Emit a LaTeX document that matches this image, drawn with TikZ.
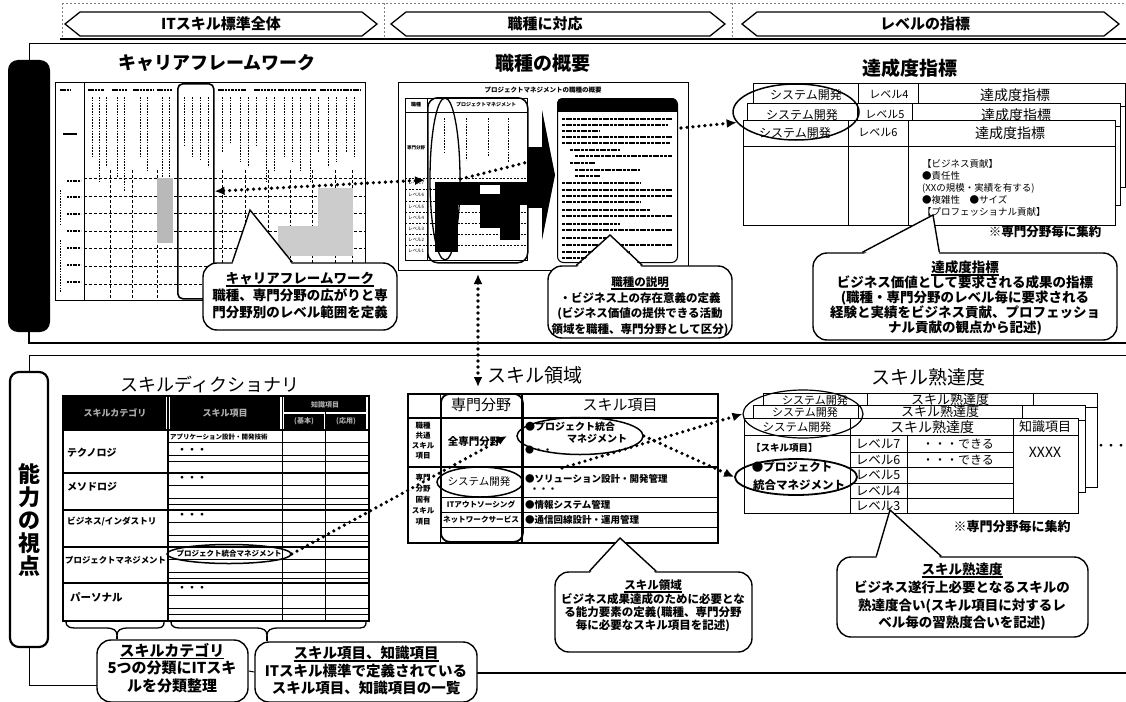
\documentclass[tikz,border=0pt]{standalone}
\usepackage{fontspec}
\setmainfont{Noto Sans CJK JP}
\usetikzlibrary{arrows.meta,calc,shapes.geometric}
\newcommand{\fsb}[2]{\fontsize{#1}{#2}\selectfont}
\newcommand{\ulx}[1]{\setbox0\hbox{#1}\rlap{\rule[-3pt]{\wd0}{1.5pt}}\box0}
\newcommand{\ptrto}[4]{%
  \fill[white] ($(#1.north west)+(#2,2.5)$) -- (#4) -- ($(#1.north west)+(#3,2.5)$) -- cycle;
  \draw[ptr] ($(#1.north west)+(#2,0)$) -- (#4) -- ($(#1.north west)+(#3,0)$);}
\begin{document}
\begin{tikzpicture}[x=1pt,y=-1pt,
  dotline/.style={line width=3.6pt, dash pattern=on 0pt off 6pt, line cap=round},
  hd/.style={-{Latex[length=10pt 0 0,width=9pt 0 0]}},
  hdd/.style={{Latex[length=10pt 0 0,width=9pt 0 0]}-{Latex[length=10pt 0 0,width=9pt 0 0]}},
  cbox/.style={draw, line width=1.4pt, fill=white, rounded corners=14pt, inner sep=0pt},
  rbox/.style={draw, inner sep=0pt, anchor=north west},
  ell/.style={draw, ellipse, inner sep=0pt},
  hexa/.style={draw, line width=1.3pt},
  ptr/.style={line width=1.4pt},
  ctx/.style={align=center, inner sep=0pt},
  ttl/.style={inner sep=0pt, font=\fsb{19}{19}},
  ttlb/.style={inner sep=0pt, font=\fsb{19}{19}\bfseries},
  txtbar/.style={line width=1.5pt, dash pattern=on 2.5pt off 0.8pt},
  vcol/.style={line width=0.9pt, dash pattern=on 1.6pt off 1.2pt},
  grid/.style={line width=0.5pt, dash pattern=on 3pt off 2pt},
]
\useasboundingbox (0,0) rectangle (1126,701);
\fill[white] (0,0) rectangle (1126,701);

% ---------------- header ----------------
\draw[gray, line width=0.5pt, dash pattern=on 2pt off 2pt] (62,3) -- (1126,3);
\foreach \x in {62,384,732} \draw[gray, line width=0.5pt, dash pattern=on 2pt off 2pt] (\x,3) -- (\x,38);
\draw[hexa] (65,24) -- (80,12) -- (362,12) -- (377,24) -- (362,36) -- (80,36) -- cycle;
\node[inner sep=0, font=\fsb{15}{15}\bfseries] (h1) at (221,24) {ITスキル標準全体};
\draw[hexa] (391,24) -- (406,12) -- (710,12) -- (725,24) -- (710,36) -- (406,36) -- cycle;
\node[inner sep=0, font=\fsb{15}{15}\bfseries] (h2) at (545,24) {職種に対応};
\draw[hexa] (742,24) -- (757,12) -- (1104,12) -- (1119,24) -- (1104,36) -- (757,36) -- cycle;
\node[inner sep=0, font=\fsb{15}{15}\bfseries] (h3) at (925,24) {レベルの指標};
\draw[line width=1.2pt] (60,39) -- (1126,39);

% ---------------- panels and side bars ----------------
\node[fill=black, rounded corners=10pt, minimum width=42pt, minimum height=272pt, inner sep=0] (bar1) at (29,196) {};
\draw[line width=1pt] (bar1.north) -- (29,44) -- (1126,44);
\draw[line width=1.4pt] (bar1.south) -- (29,343) -- (1126,343);
\node[draw, line width=2.2pt, rounded corners=9pt, fill=white, minimum width=38pt, minimum height=275pt, inner sep=0] (bar2) at (29,509.5) {};
\node[align=center, inner sep=0, font=\fsb{22}{23}\bfseries] (bar2t) at (29,520) {能\\力\\の\\視\\点};
\draw[line width=1pt] (bar2.north) -- (29,355) -- (1126,355);
\draw[line width=1pt] (bar2.south) -- (29,685) -- (97,685);
\draw[line width=1.4pt] (477,673) -- (1126,673);

% ---------------- career framework ----------------
\node[ttlb, font=\fsb{18}{18}\bfseries] (tcf) at (217,63) {キャリアフレームワーク};
\node[rbox, line width=1.2pt, minimum width=310pt, minimum height=218pt] (fw) at (55,82) {};
\draw[line width=0.6pt] (84,82) -- (84,300);
\foreach \x/\w in {60/10, 88/16, 112/15, 133/20, 157/15, 218/28, 254/22, 278/38, 320/40}
  \draw[txtbar] (\x,90) -- ++(\w,0);
\foreach \x/\l in {92/60, 99/85, 106/70, 117/80, 124/95, 140/60, 147/75, 162/90, 169/85, 184/50, 192/60, 200/62, 208/70, 222/55, 230/45, 240/65, 248/70, 256/50, 266/85, 274/75, 284/60, 292/65, 300/75, 310/85, 318/55, 328/70, 336/65, 346/55, 354/60}
  \draw[vcol] (\x,97) -- ++(0,\l);
\draw[line width=1.6pt] (63,134) -- (77,134);
\foreach \y in {181,197,214,231,248,265,282} \draw[line width=1.1pt, dash pattern=on 2pt off 0.8pt] (67,\y) -- (81,\y);
\draw[vcol] (60,190) -- (60,225);
\draw[vcol] (60,240) -- (60,292);
\foreach \y in {178,196,213,231,248,266,284} \draw[grid] (84,\y) -- (365,\y);
\foreach \x in {110,132,157,222,245,268,290,312,335,352} \draw[grid] (\x,170) -- (\x,300);
\fill[gray!55] (157,178) rectangle (173,243);
\fill[gray!40] (318,188) rectangle (353,256);
\fill[gray!40] (278,226) rectangle (318,256);
\node[rbox, line width=1.6pt, rounded corners=5pt, minimum width=36pt, minimum height=215pt] (fwcol) at (177,83) {};

% ---------------- job overview ----------------
\node[ttlb] (tjob) at (543,63) {職種の概要};
\node[rbox, line width=1pt, minimum width=290pt, minimum height=188pt] (jobbox) at (398,82) {};
\node[inner sep=0, font=\fsb{6.5}{6.5}\bfseries] (jobcap) at (543,90) {プロジェクトマネジメントの職種の概要};
\node[rbox, line width=0.8pt, minimum width=122pt, minimum height=162pt] (jobtab) at (405,98) {};
\draw[line width=0.8pt] (405,112) -- (527,112);
\draw[line width=0.6pt] (427,98) -- (427,260);
\draw[line width=0.5pt, dash pattern=on 2pt off 1.5pt] (405,178) -- (527,178);
\foreach \y in {189,201,212,223,234,245} \draw[line width=0.4pt, dash pattern=on 2pt off 1.5pt] (405,\y) -- (527,\y);
\node[inner sep=0, font=\fsb{5}{5}\bfseries] (jobh1) at (416,105) {職種};
\node[inner sep=0, font=\fsb{5}{5}\bfseries] (jobh2) at (486,105) {プロジェクトマネジメント};
\node[inner sep=0, font=\fsb{4.5}{4.5}\bfseries] (jobsp) at (416,148) {専門分野};
\foreach \y/\t in {183/7,195/6,207/5,218/4,229/3,240/2,251/1}
  \node[inner sep=0, font=\fsb{4.5}{4.5}] (jl\t) at (416,\y) {レベル\t};
\foreach \x/\l in {444/35, 466/42, 488/38, 508/44} \draw[vcol] (\x,118) -- ++(0,\l);
\fill (435,182) rectangle (527,205);
\fill[white] (480,185) rectangle (500,194);
\fill (435,205) rectangle (458,252);
\fill (480,205) rectangle (520,228);
\fill (500,228) rectangle (520,240);
\node[rbox, line width=1.5pt, rounded corners=10pt, minimum width=100pt, minimum height=165pt] (jobhl) at (427,97) {};
\node[ell, line width=1.3pt, minimum width=30pt, minimum height=162pt] (jobell) at (445,179) {};
% block arrow
\fill (528,147) rectangle (546,208);
\fill (542,110) -- (555,175) -- (542,240) -- cycle;
% description page
\node[rbox, line width=1pt, rounded corners=6pt, minimum width=120pt, minimum height=164pt] (page) at (557,98) {};
\fill[rounded corners=5pt] (557,98) rectangle (677,108);
\fill (557,104) rectangle (677,112);
\foreach \y/\a/\b in {119/562/672, 125/562/668, 131/562/600, 137/562/672, 143/562/670, 150/570/620, 156/575/672, 163/570/595, 170/575/640, 176/575/600, 183/562/640, 190/562/672, 196/562/672, 202/562/640, 210/562/650, 216/562/672, 224/562/620, 230/562/672, 238/562/610, 245/562/672, 252/562/630, 258/562/600}
  \draw[line width=1.8pt, dash pattern=on 3pt off 0.7pt] (\a,\y) -- (\b,\y);

% ---------------- achievement index ----------------
\node[ttlb] (tach) at (910,68) {達成度指標};
\node[rbox, line width=1.2pt, fill=white, minimum width=372pt, minimum height=104pt] (ac1) at (753,83) {};
\draw[line width=1pt] (753,106) -- (1125,106);
\draw[line width=1pt] (858,83) -- (858,187);
\draw[line width=1pt] (918,83) -- (918,187);
\node[inner sep=0, font=\fsb{12}{12}] (ac1a) at (806,95) {システム開発};
\node[inner sep=0, font=\fsb{11}{11}] (ac1b) at (889,95) {レベル4};
\node[inner sep=0, font=\fsb{14}{14}] (ac1c) at (1015,95) {達成度指標};
\node[rbox, line width=1.2pt, fill=white, minimum width=373pt, minimum height=102pt] (ac2) at (747,103) {};
\draw[line width=1pt] (747,126) -- (1120,126);
\draw[line width=1pt] (857,103) -- (857,205);
\draw[line width=1pt] (912,103) -- (912,205);
\node[inner sep=0, font=\fsb{12}{12}] (ac2a) at (802,115) {システム開発};
\node[inner sep=0, font=\fsb{11}{11}] (ac2b) at (885,115) {レベル5};
\node[inner sep=0, font=\fsb{14}{14}] (ac2c) at (1016,115) {達成度指標};
\node[rbox, line width=1.2pt, fill=white, minimum width=372pt, minimum height=105pt] (ac3) at (743,120) {};
\draw[line width=1pt] (743,146) -- (1115,146);
\draw[line width=1pt] (848,120) -- (848,225);
\draw[line width=1pt] (908,120) -- (908,225);
\node[inner sep=0, font=\fsb{12}{12}] (ac3a) at (795,133) {システム開発};
\node[inner sep=0, font=\fsb{11}{11}] (ac3b) at (878,133) {レベル6};
\node[inner sep=0, font=\fsb{14}{14}] (ac3c) at (1010,133) {達成度指標};
\node[anchor=north west, align=left, inner sep=0, font=\fsb{9.5}{12}] (ac3body) at (922,159)
  {【ビジネス貢献】\\●責任性\\(XXの規模・実績を有する)\\●複雑性　●サイズ\\【プロフェッショナル貢献】};
\node[ell, line width=1.5pt, minimum width=126pt, minimum height=56pt] (acell) at (796,112) {};
\node[inner sep=0, font=\fsb{12.5}{12.5}\bfseries] (acnote) at (1045,232) {※専門分野毎に集約};

% ---------------- upper callouts ----------------
\coordinate (cfwtip) at (250,210);
\node[cbox, minimum width=194pt, minimum height=67pt] (cfw) at (300,296.5) {};
\ptrto{cfw}{30}{90}{cfwtip}
\node[ctx, font=\fsb{13.5}{17}\bfseries] (cfwt) at (300,296) {\ulx{キャリアフレームワーク}\\職種、専門分野の広がりと専\\門分野別のレベル範囲を定義};

\coordinate (cjobtip) at (610,235);
\node[cbox, minimum width=184pt, minimum height=72pt] (cjob) at (640,302) {};
\ptrto{cjob}{29}{95}{cjobtip}
\node[ctx, font=\fsb{11.5}{15.5}\bfseries] (cjobt) at (640,306) {\ulx{職種の説明}\\・ビジネス上の存在意義の定義\\(ビジネス価値の提供できる活動\\領域を職種、専門分野として区分)};

\coordinate (cachtip) at (933,215);
\node[cbox, minimum width=304pt, minimum height=87pt] (cach) at (965,296.5) {};
\ptrto{cach}{50}{127}{cachtip}
\node[ctx, font=\fsb{13.5}{14.8}\bfseries] (cacht) at (965,298) {\ulx{達成度指標}\\ビジネス価値として要求される成果の指標\\(職種・専門分野のレベル毎に要求される\\経験と実績をビジネス貢献、プロフェッショ\\ナル貢献の観点から記述)};

% ---------------- skill dictionary ----------------
\node[ttl, font=\fsb{18}{18}] (tsd) at (210,385) {スキルディクショナリ};
\node[rbox, line width=1.8pt, minimum width=306pt, minimum height=225pt] (sdict) at (62,395) {};
\fill (64,397) rectangle (166,429);
\fill (170,397) rectangle (280,429);
\fill (284,397) rectangle (366,412);
\fill (284,414) rectangle (324,429);
\fill (326,414) rectangle (366,429);
\node[inner sep=0, text=gray!65, font=\fsb{9}{9}\bfseries] (dh1) at (115,413) {スキルカテゴリ};
\node[inner sep=0, text=gray!65, font=\fsb{9}{9}\bfseries] (dh2) at (225,413) {スキル項目};
\node[inner sep=0, text=gray!65, font=\fsb{7}{7}\bfseries] (dh3) at (325,405) {知識項目};
\node[inner sep=0, text=gray!65, font=\fsb{7}{7}\bfseries] (dh4) at (304,421) {(基本)};
\node[inner sep=0, text=gray!65, font=\fsb{7}{7}\bfseries] (dh5) at (346,421) {(応用)};
\draw[line width=1.4pt] (168,395) -- (168,620);
\draw[line width=1pt] (282,395) -- (282,620);
\draw[line width=0.8pt] (325,412) -- (325,620);
\foreach \r in {430,473,510,547,583} {
  \draw[line width=1.2pt] (62,\r) -- (368,\r);
  \draw[line width=0.7pt] (168,\r+12) -- (368,\r+12);
  \draw[line width=0.7pt] (168,\r+25) -- (368,\r+25);
  \draw[line width=0.7pt] (168,\r+31) -- (368,\r+31);
}
\node[anchor=west, inner sep=0, font=\fsb{10}{10}\bfseries] (c1) at (67,453) {テクノロジ};
\node[anchor=west, inner sep=0, font=\fsb{10}{10}\bfseries] (c2) at (67,487) {メソドロジ};
\node[anchor=west, inner sep=0, font=\fsb{8.6}{8.6}\bfseries] (c3) at (67,522) {ビジネス/インダストリ};
\node[anchor=west, inner sep=0, font=\fsb{8.4}{8.4}\bfseries] (c4) at (65,560) {プロジェクトマネジメント};
\node[anchor=west, inner sep=0, font=\fsb{10.5}{10.5}\bfseries] (c5) at (70,597) {パーソナル};
\node[anchor=west, inner sep=0, font=\fsb{6.5}{6.5}\bfseries] (s1) at (170,437) {アプリケーション設計・開発技術};
\foreach \y/\n in {451/a,479/b,516/c,589/d}
  \node[anchor=west, inner sep=0, font=\fsb{10}{10}\bfseries] (dd\n) at (177,\y) {・・・};
\node[ell, line width=1.5pt, minimum width=124pt, minimum height=19pt] (sdpm) at (229,554) {};
\node[inner sep=0, font=\fsb{7.5}{7.5}\bfseries] (sdpmt) at (229,554) {プロジェクト統合マネジメント};
\draw[line width=1.3pt] (66,621) .. controls (66,628) and (70,628) .. (80,628) -- (105,628) .. controls (114,628) and (117,630) .. (117,636) .. controls (117,630) and (120,628) .. (129,628) -- (152,628) .. controls (162,628) and (164,628) .. (164,621);
\draw[line width=1.3pt] (171,621) .. controls (171,628) and (175,628) .. (185,628) -- (255,628) .. controls (264,628) and (267,630) .. (267,636) .. controls (267,630) and (270,628) .. (279,628) -- (355,628) .. controls (364,628) and (366,628) .. (366,621);
\node[cbox, minimum width=151pt, minimum height=62pt] (cbcat) at (172.5,671) {};
\node[cbox, minimum width=222pt, minimum height=60pt] (cbitem) at (366,672) {};
\draw[line width=1.3pt] (117,636) -- (cbcat.north -| 117,0);
\draw[line width=1.3pt] (267,636) -- (cbitem.north -| 267,0);
\draw[line width=1pt] (cbcat.east) -- (cbitem.west);
\node[ctx, font=\fsb{15}{17.5}\bfseries] (cbcatt) at (172,668) {\ulx{スキルカテゴリ}\\5つの分類にITスキ\\ルを分類整理};
\node[ctx, font=\fsb{14.5}{17.5}\bfseries] (cbitemt) at (366,671) {\ulx{スキル項目、知識項目}\\ITスキル標準で定義されている\\スキル項目、知識項目の一覧};

% ---------------- skill domain ----------------
\node[ttl] (tsdom) at (535,375) {スキル領域};
\node[rbox, line width=2.2pt, minimum width=310pt, minimum height=149pt] (sdom) at (407,393) {};
\draw[line width=0.8pt] (440,393) -- (440,542);
\draw[line width=2pt] (521.5,393) -- (521.5,542);
\draw[line width=1.2pt] (407,418) -- (717,418);
\draw[line width=1.8pt] (407,467) -- (717,467);
\draw[line width=1pt] (440,497) -- (717,497);
\draw[line width=1pt] (440,512) -- (717,512);
\draw[line width=1pt] (440,527) -- (717,527);
\node[inner sep=0, font=\fsb{15}{15}] (sdh1) at (481,405) {専門分野};
\node[inner sep=0, font=\fsb{15}{15}] (sdh2) at (620,405) {スキル項目};
\node[ctx, font=\fsb{7.5}{10}\bfseries] (sdv1) at (423,441) {職種\\共通\\スキル\\項目};
\node[ctx, font=\fsb{7.5}{11}\bfseries] (sdv2) at (423,500) {専門\\分野\\固有\\スキル\\項目};
\node[inner sep=0, font=\fsb{10.5}{10.5}\bfseries] (sdall) at (474,442) {全専門分野};
\node[inner sep=0, font=\fsb{10.5}{10.5}] (sdsys) at (479,482) {システム開発};
\node[inner sep=0, font=\fsb{7.6}{7.6}\bfseries] (sdout) at (481,505) {ITアウトソーシング};
\node[inner sep=0, font=\fsb{7.6}{7.6}\bfseries] (sdnet) at (481,520) {ネットワークサービス};
\node[anchor=west, inner sep=0, font=\fsb{10}{10}\bfseries] (sdi1) at (525,427) {●プロジェクト統合};
\node[anchor=west, inner sep=0, font=\fsb{10}{10}\bfseries] (sdi2) at (567,439) {マネジメント};
\node[anchor=west, inner sep=0, font=\fsb{9}{9}\bfseries] (sdi3) at (525,450) {●・・};
\node[anchor=west, inner sep=0, font=\fsb{9.5}{9.5}\bfseries] (sdi4) at (525,479) {●ソリューション設計・開発管理};
\node[anchor=west, inner sep=0, font=\fsb{9}{9}\bfseries] (sdi5) at (530,490) {・・・};
\node[anchor=west, inner sep=0, font=\fsb{9.5}{9.5}\bfseries] (sdi6) at (525,505) {●情報システム管理};
\node[anchor=west, inner sep=0, font=\fsb{9.5}{9.5}\bfseries] (sdi7) at (525,520) {●通信回線設計・運用管理};
\node[rbox, line width=1.8pt, rounded corners=9pt, minimum width=82pt, minimum height=148pt] (sdcol) at (440,393) {};
\node[ell, line width=1.5pt, minimum width=126pt, minimum height=37pt] (sdompm) at (580,436) {};
\node[ell, line width=1.5pt, minimum width=86pt, minimum height=30pt] (sysdev) at (480,482) {};

\coordinate (cdomtip) at (620,538);
\node[cbox, minimum width=197pt, minimum height=80pt] (cdom) at (653.5,612) {};
\ptrto{cdom}{35}{102}{cdomtip}
\node[ctx, font=\fsb{11.5}{13}\bfseries] (cdomt) at (653,606) {\ulx{スキル領域}\\ビジネス成果達成のために必要とな\\る能力要素の定義(職種、専門分野\\毎に必要なスキル項目を記述)};

% ---------------- skill proficiency ----------------
\node[ttl] (tsp) at (928,377) {スキル熟達度};
\node[rbox, line width=1.2pt, fill=white, minimum width=334pt, minimum height=94pt] (sp1) at (763,393) {};
\draw[line width=1pt] (763,407) -- (1097,407);
\draw[line width=1pt] (867,393) -- (867,487);
\draw[line width=1pt] (1033,393) -- (1033,487);
\node[inner sep=0, font=\fsb{11}{11}] (sp1a) at (815,400) {システム開発};
\node[inner sep=0, font=\fsb{13}{13}] (sp1b) at (950,400) {スキル熟達度};
\node[rbox, line width=1.2pt, fill=white, minimum width=332pt, minimum height=87pt] (sp2) at (753,405) {};
\draw[line width=1pt] (753,420) -- (1085,420);
\draw[line width=1pt] (858,405) -- (858,492);
\draw[line width=1pt] (1022,405) -- (1022,492);
\node[inner sep=0, font=\fsb{11}{11}] (sp2a) at (805,412) {システム開発};
\node[inner sep=0, font=\fsb{13}{13}] (sp2b) at (940,412) {スキル熟達度};
\node[rbox, line width=1.2pt, fill=white, minimum width=334pt, minimum height=95pt] (sp3) at (744,418) {};
\draw[line width=1pt] (744,435) -- (1078,435);
\draw[line width=1pt] (850,418) -- (850,513);
\draw[line width=1pt] (1013,418) -- (1013,513);
\draw[line width=1pt] (907,435) -- (907,513);
\foreach \y in {452,467,483,498} \draw[line width=1pt] (850,\y) -- (1013,\y);
\node[inner sep=0, font=\fsb{11.5}{11.5}] (sp3a) at (797,427) {システム開発};
\node[inner sep=0, font=\fsb{14}{14}] (sp3b) at (932,427) {スキル熟達度};
\node[inner sep=0, font=\fsb{13}{13}] (sp3c) at (1045,427) {知識項目};
\foreach \y/\t in {443.5/7,459.5/6,475/5,490.5/4,505.5/3}
  \node[inner sep=0, font=\fsb{12.5}{12.5}] (lv\t) at (878,\y) {レベル\t};
\node[inner sep=0, font=\fsb{12}{12}] (can1) at (958,443.5) {・・・できる};
\node[inner sep=0, font=\fsb{12}{12}] (can2) at (958,459.5) {・・・できる};
\node[inner sep=0, font=\fsb{14}{14}] (xxxx) at (1045,452) {XXXX};
\node[anchor=west, inner sep=0, font=\fsb{9.5}{9.5}\bfseries] (spk) at (751,448) {【スキル項目】};
\node[inner sep=0, font=\fsb{11.5}{11.5}\bfseries] (spk1) at (792,467) {●プロジェクト};
\node[inner sep=0, font=\fsb{11.5}{11.5}\bfseries] (spk2) at (799,485) {統合マネジメント};
\node[inner sep=0, font=\fsb{10}{10}\bfseries] (spmore) at (1111,447) {・・・};
\node[ell, line width=1.2pt, minimum width=120pt, minimum height=48pt] (sptop) at (803,414) {};
\node[ell, line width=1.8pt, minimum width=122pt, minimum height=36pt] (sppm) at (796,477) {};
\node[inner sep=0, font=\fsb{13}{13}\bfseries] (spnote) at (1012,527) {※専門分野毎に集約};

\coordinate (cprotip) at (890,510);
\node[cbox, minimum width=251pt, minimum height=80pt] (cpro) at (962.5,597) {};
\ptrto{cpro}{40}{105}{cprotip}
\node[ctx, font=\fsb{13.5}{17.7}\bfseries] (cprot) at (962,597) {\ulx{スキル熟達度}\\ビジネス遂行上必要となるスキルの\\熟達度合い(スキル項目に対するレ\\ベル毎の習熟度合いを記述)};

% ---------------- dotted connectors ----------------
\coordinate (jt7) at (425,180);
\coordinate (barr) at (528,162);
\coordinate (pgout) at (681,128);
\coordinate (vtop) at (478,274);
\coordinate (vbot) at (478,387);
\coordinate (atip) at (507,436);
\coordinate (bstart) at (562,468);
\draw[dotline, hdd] (fwcol.east) -- (jt7);
\draw[dotline] (jobell.east) -- (barr);
\draw[dotline, hd] (pgout) -- (acell.190);
\draw[dotline, hdd] (vtop) -- (vbot);
\draw[dotline, hd] (sdpm.east) -- (atip);
\draw[dotline, hd] (bstart) -- (sptop.west);
\draw[dotline, hd] (sdompm.east) -- (sppm.west);
\end{tikzpicture}
\end{document}
